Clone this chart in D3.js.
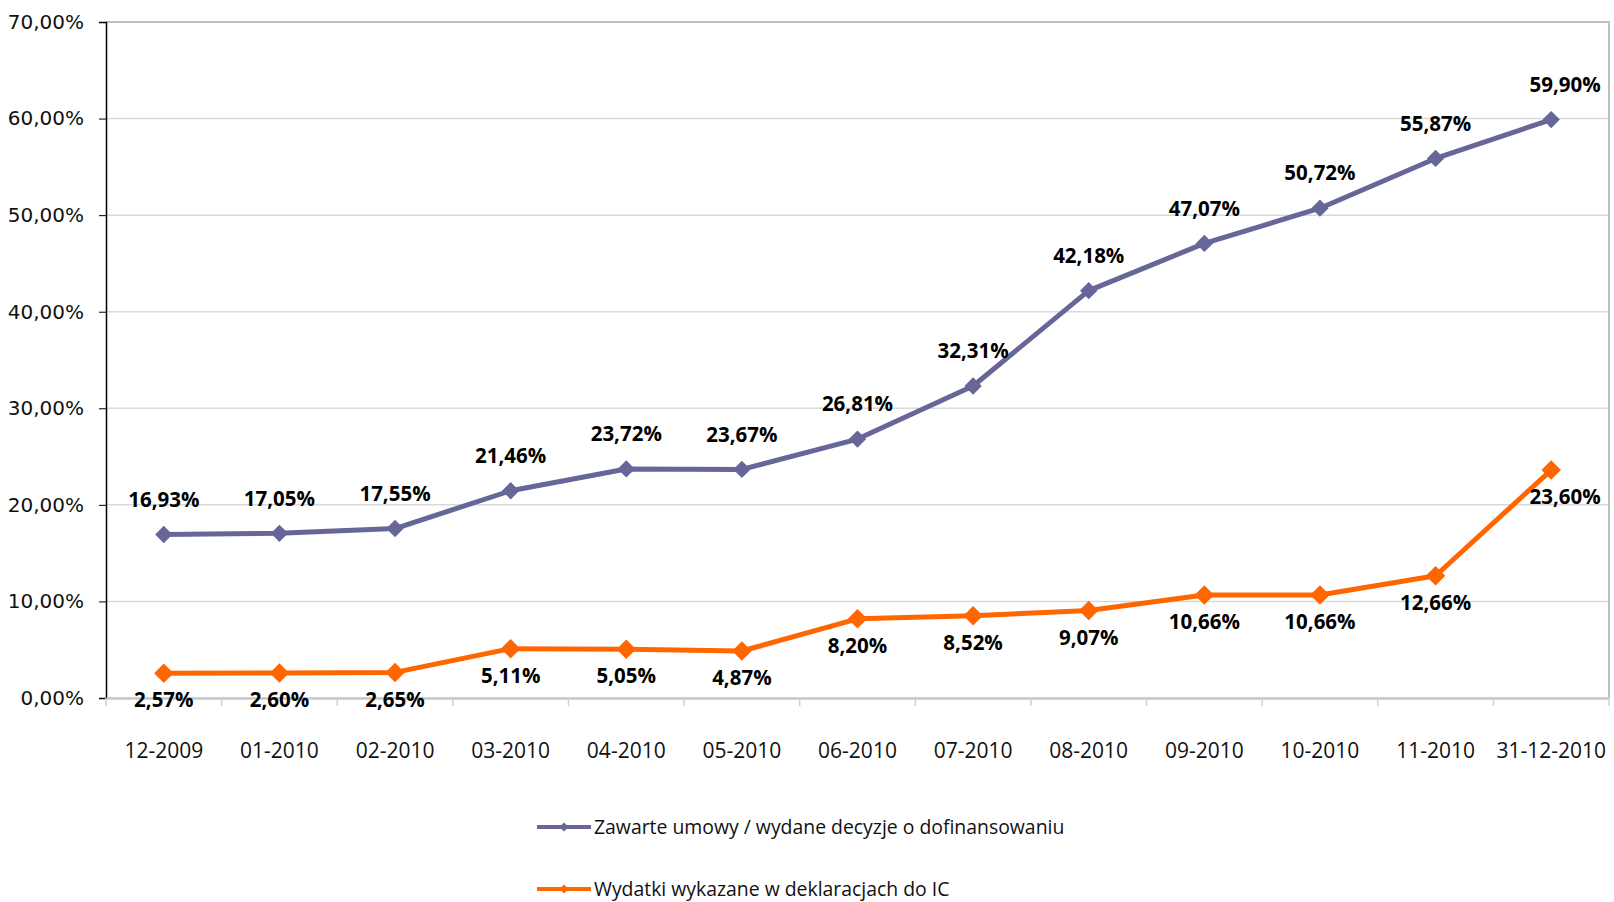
<!DOCTYPE html>
<html>
<head>
<meta charset="utf-8">
<script src="https://cdn.jsdelivr.net/npm/d3@7"></script>
<style>
  body { margin: 0; background: #fff; }
  svg { display: block; }
</style>
</head>
<body>
<svg></svg>
<script>
var width = 1614;
var height = 902;

var months = ['12-2009', '01-2010', '02-2010', '03-2010', '04-2010', '05-2010', '06-2010',
              '07-2010', '08-2010', '09-2010', '10-2010', '11-2010', '31-12-2010'];
var umowy = [16.93, 17.05, 17.55, 21.46, 23.72, 23.67, 26.81, 32.31, 42.18, 47.07, 50.72, 55.87, 59.90];
var wydatki = [2.57, 2.60, 2.65, 5.11, 5.05, 4.87, 8.20, 8.52, 9.07, 10.66, 10.66, 12.66, 23.60];
var yTicks = [0, 10, 20, 30, 40, 50, 60, 70];
var seriesNames = ['Zawarte umowy / wydane decyzje o dofinansowaniu', 'Wydatki wykazane w deklaracjach do IC'];
var seriesColors = ['#666699', '#ff6600'];

var plot = {left: 106, right: 1609, top: 22, bottom: 698};

var svg = d3.select('svg')
    .attr('width', width)
    .attr('height', height);

var xScale = d3.scaleBand()
    .domain(months)
    .range([plot.left, plot.right]);

var yScale = d3.scaleLinear()
    .domain([0, 70])
    .range([plot.bottom, plot.top]);

var pct = v => v.toFixed(2).replace('.', ',') + '%';

// gridlines
svg.append('g')
    .selectAll('line')
    .data(yTicks)
    .enter()
    .append('line')
    .attr('x1', plot.left)
    .attr('x2', plot.right)
    .attr('y1', d => yScale(d))
    .attr('y2', d => yScale(d))
    .attr('stroke', '#d9d9d9')
    .attr('stroke-width', 1.5);

// plot border (top / right)
svg.append('path')
    .attr('d', 'M' + plot.left + ',' + plot.top + 'H' + plot.right + 'V' + plot.bottom)
    .attr('fill', 'none')
    .attr('stroke', '#c0c0c0')
    .attr('stroke-width', 2);

// y axis
var yAxis = svg.append('g')
    .attr('transform', 'translate(' + plot.left + ',0)')
    .call(d3.axisLeft(yScale).tickValues(yTicks).tickSize(7).tickPadding(15).tickFormat(d => pct(d)));
yAxis.select('.domain').attr('stroke', '#000').attr('stroke-width', 1.5);
yAxis.selectAll('.tick line').attr('stroke', '#000');
yAxis.selectAll('text')
    .style('font-family', 'DejaVu Sans')
    .style('font-size', '20px')
    .attr('fill', '#111');

// x axis
var xAxis = svg.append('g')
    .attr('transform', 'translate(0,' + plot.bottom + ')')
    .call(d3.axisBottom(xScale).tickSize(0).tickPadding(45));
xAxis.select('.domain').attr('stroke', '#c8c8c8').attr('stroke-width', 2.5);
xAxis.selectAll('text')
    .style('font-family', 'Open Sans')
    .style('font-size', '21px')
    .attr('fill', '#111');

svg.append('g')
    .selectAll('line')
    .data(months.concat(['end']))
    .enter()
    .append('line')
    .attr('x1', (d, i) => plot.left + i * xScale.bandwidth())
    .attr('x2', (d, i) => plot.left + i * xScale.bandwidth())
    .attr('y1', plot.bottom)
    .attr('y2', plot.bottom + 8)
    .attr('stroke', '#d0d0d0')
    .attr('stroke-width', 1.5);

var cx = d => xScale(d) + xScale.bandwidth() / 2;
var square = d3.symbol().type(d3.symbolSquare);

function drawSeries(values, color, labelDy, markerSize) {
    var pts = values.map((v, i) => ({m: months[i], v: v, last: i === values.length - 1}));

    svg.append('path')
        .datum(pts)
        .attr('fill', 'none')
        .attr('stroke', color)
        .attr('stroke-width', 5)
        .attr('stroke-linejoin', 'round')
        .attr('d', d3.line().x(d => cx(d.m)).y(d => yScale(d.v)));

    svg.append('g')
        .selectAll('path')
        .data(pts)
        .enter()
        .append('path')
        .attr('d', square.size(markerSize))
        .attr('transform', d => 'translate(' + cx(d.m) + ',' + yScale(d.v) + ') rotate(45)')
        .attr('fill', color);

    svg.append('g')
        .selectAll('text')
        .data(pts)
        .enter()
        .append('text')
        .attr('x', d => cx(d.m) + (d.last ? 14 : 0))
        .attr('y', d => yScale(d.v) + labelDy)
        .attr('dy', '0.35em')
        .attr('text-anchor', 'middle')
        .style('font-family', 'Open Sans')
        .style('font-weight', 'bold')
        .style('font-size', '20.5px')
        .attr('fill', '#000')
        .text(d => pct(d.v));
}

drawSeries(umowy, seriesColors[0], -35, 150);
drawSeries(wydatki, seriesColors[1], 27, 190);

// legend
var legend = svg.append('g')
    .selectAll('g')
    .data(seriesNames)
    .enter()
    .append('g')
    .attr('transform', (d, i) => 'translate(537,' + (827 + i * 62) + ')');

legend.append('line')
    .attr('x1', 0)
    .attr('x2', 54)
    .attr('stroke', (d, i) => seriesColors[i])
    .attr('stroke-width', 4);

legend.append('path')
    .attr('d', square.size(40))
    .attr('transform', 'translate(27,0) rotate(45)')
    .attr('fill', (d, i) => seriesColors[i]);

legend.append('text')
    .attr('x', 57)
    .attr('dy', '0.35em')
    .style('font-family', 'Open Sans')
    .style('font-size', '19.4px')
    .attr('fill', '#111')
    .text(d => d);
</script>
</body>
</html>
